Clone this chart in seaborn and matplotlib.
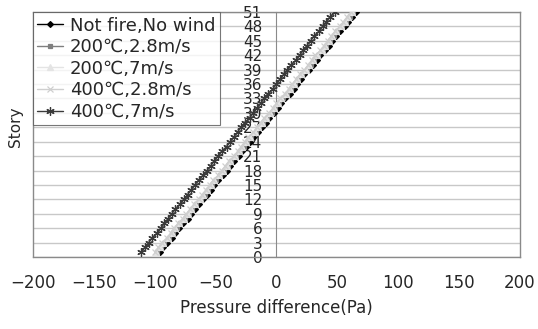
import seaborn as sns
import matplotlib.pyplot as plt

# story levels 1..51
story = [1, 2, 3, 4, 5, 6, 7, 8, 9, 10, 11, 12, 13, 14, 15, 16, 17, 18, 19, 20,
         21, 22, 23, 24, 25, 26, 27, 28, 29, 30, 31, 32, 33, 34, 35, 36, 37, 38, 39, 40,
         41, 42, 43, 44, 45, 46, 47, 48, 49, 50, 51]

not_fire = [-96, -93, -90, -86, -83, -80, -77, -73, -70, -67, -64, -60, -57, -54, -51, -48, -44,
            -41, -38, -35, -31, -28, -25, -22, -19, -15, -12, -9, -6, -2, 1, 4, 7, 11, 14,
            17, 20, 23, 27, 30, 33, 36, 40, 43, 46, 49, 52, 56, 59, 62, 65]
f200_28 = [-98, -95, -92, -88, -85, -82, -79, -75, -72, -69, -66, -62, -59, -56, -53, -50, -46,
           -43, -40, -37, -33, -30, -27, -24, -21, -17, -14, -11, -8, -4, -1, 2, 5, 9, 12,
           15, 18, 21, 25, 28, 31, 34, 38, 41, 44, 47, 50, 54, 57, 60, 63]
f200_7 = [-99, -96, -93, -89, -86, -83, -80, -76, -73, -70, -67, -63, -60, -57, -54, -51, -47,
          -44, -41, -38, -34, -31, -28, -25, -22, -18, -15, -12, -9, -5, -2, 1, 4, 8, 11,
          14, 17, 20, 24, 27, 30, 33, 37, 40, 43, 46, 49, 53, 56, 59, 62]
f400_28 = [-100, -97, -94, -90, -87, -84, -81, -77, -74, -71, -68, -64, -61, -58, -55, -52, -48,
           -45, -42, -39, -35, -32, -29, -26, -23, -19, -16, -13, -10, -6, -3, 0, 3, 7, 10,
           13, 16, 19, 23, 26, 29, 32, 36, 39, 42, 45, 48, 52, 55, 58, 61]
f400_7 = [-111, -108, -105, -102, -98, -95, -92, -89, -86, -83, -79, -76, -73, -70, -67, -64, -60,
          -57, -54, -51, -48, -45, -41, -38, -35, -32, -29, -26, -22, -19, -16, -13, -10, -7, -3,
          0, 3, 6, 9, 12, 16, 19, 22, 25, 28, 31, 35, 38, 41, 44, 48]

labels = ["Not fire,No wind", "200℃,2.8m/s", "200℃,7m/s", "400℃,2.8m/s", "400℃,7m/s"]
series = [not_fire, f200_28, f200_7, f400_28, f400_7]
colors = ["#000000", "#7f7f7f", "#e4e4e4", "#cfcfcf", "#3a3a3a"]
markers = ["D", "s", "^", "x", (6, 2, 0)]
msizes = [3, 3.5, 4, 4.5, 6]

x_ticks = [-200, -150, -100, -50, 0, 50, 100, 150, 200]
y_ticks = [0, 3, 6, 9, 12, 15, 18, 21, 24, 27, 30, 33, 36, 39, 42, 45, 48, 51]

sns.set_style("white")
plt.rcParams['font.family'] = ['DejaVu Sans', 'Noto Sans CJK KR']

fig = plt.figure(figsize=(5.38, 3.29), dpi=100)
ax = fig.add_axes([0.0613, 0.2188, 0.9052, 0.7447])

for xs, lab, c, m, ms in zip(series, labels, colors, markers, msizes):
    sns.lineplot(x=xs, y=story, ax=ax, color=c, marker=m, markersize=ms, linewidth=1,
                 markeredgecolor=c, markeredgewidth=0.9, label=lab, sort=False, zorder=3)

ax.set_xlim(-200, 200)
ax.set_ylim(0, 51)
ax.set_xticks(x_ticks)
ax.set_yticks(y_ticks)
ax.yaxis.grid(True, color="#c8c8c8", linewidth=1)
ax.xaxis.grid(False)

for s in ["top", "right", "bottom"]:
    ax.spines[s].set_color("#8a8a8a")
    ax.spines[s].set_linewidth(1)
ax.spines["left"].set_position(("data", 0))
ax.spines["left"].set_color("#8a8a8a")
ax.axvline(-200, color="#8a8a8a", linewidth=1, clip_on=False)

ax.tick_params(axis="x", direction="in", length=5, color="#8a8a8a", labelsize=12, pad=12)
ax.tick_params(axis="y", length=0, labelsize=11, pad=10)

ax.set_xlabel("Pressure difference(Pa)", fontsize=12, labelpad=5)
ax.set_ylabel("Story", fontsize=11)
ax.yaxis.set_label_coords(-0.02, 0.53)

leg = ax.legend(loc="upper left", borderaxespad=0, fontsize=13, frameon=True, fancybox=False,
                handlelength=1.4, handletextpad=0.4, labelspacing=0.2, borderpad=0.25)
leg.get_frame().set_edgecolor("#555555")
leg.get_frame().set_linewidth(0.8)
leg.set_zorder(5)

fig.savefig("out.png", dpi=100)
